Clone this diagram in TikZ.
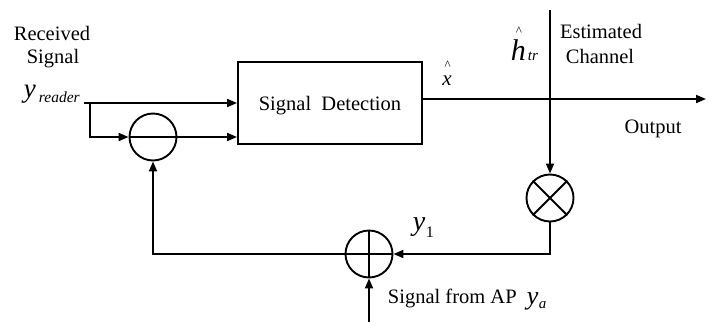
\documentclass[tikz,border=0pt]{standalone}
\usepackage{fontspec}
\setmainfont{Liberation Serif}
\usetikzlibrary{arrows.meta}
\begin{document}
\begin{tikzpicture}[x=1pt,y=-1pt, line width=1.9pt,
  arr/.style={-{Triangle[length=10pt,width=8pt]}},
  lbl/.style={font=\fontsize{20.5}{22}\selectfont, inner sep=0pt, anchor=base},
  ring/.style={circle, draw, minimum size=47pt, inner sep=0pt, line width=1.9pt}]
\useasboundingbox (0,0) rectangle (709,322);
% blocks
\node[draw, minimum width=184pt, minimum height=82pt, inner sep=0pt, line width=1.9pt] (box) at (330,103) {};
\node[lbl] (boxt) at (330,110) {Signal\ \ Detection};
\node[ring] (sub) at (153,137) {};
\draw (sub.west) -- (sub.east);
\node[ring] (mult) at (550,198) {};
\draw (mult.north west) -- (mult.south east) (mult.north east) -- (mult.south west);
\node[ring] (add) at (369,254) {};
\draw (add.north) -- (add.south) (add.west) -- (add.east);
% connectors
\coordinate (yin) at (84,103);
\coordinate (jn) at (90,103);
\draw[arr] (yin) -- (box.west |- jn);
\draw[arr] (jn) |- (sub.west);
\draw[arr] (sub.east) -- (box.west |- sub.east);
\coordinate (out) at (706,99);
\draw[arr] (box.east |- out) -- (out);
\coordinate (htop) at (550,10);
\draw[arr] (htop) -- (mult.north);
\draw[arr] (mult.south) |- (add.east);
\draw[arr] (add.west) -| (sub.south);
\coordinate (ya) at (369,322);
\draw[arr] (ya) -- (add.south);
% labels
\node[lbl] (rec1) at (52,40) {Received};
\node[lbl] (rec2) at (53,63) {Signal};
\node[lbl, anchor=base west, font=\fontsize{27}{27}\selectfont\itshape] (yr) at (23,97) {y};
\node[lbl, anchor=base west, font=\fontsize{15.5}{16}\selectfont\itshape] (yrs) at (38,102) {reader};
\node[lbl, font=\fontsize{21}{21}\selectfont\itshape] (xh) at (447,85) {x\llap{\raisebox{16pt}{\fontsize{13}{13}\selectfont\upshape\textasciicircum}\hspace{1pt}}};
\node[lbl, anchor=base west, font=\fontsize{30}{30}\selectfont\itshape] (h) at (510,60) {h\llap{\raisebox{25pt}{\fontsize{13}{13}\selectfont\upshape\textasciicircum}\hspace{4pt}}};
\node[lbl, anchor=base west, font=\fontsize{15}{15}\selectfont\itshape] (hs) at (527,60) {tr};
\node[lbl] (est1) at (601,38) {Estimated};
\node[lbl] (est2) at (600,63) {Channel};
\node[lbl] (outl) at (653,133) {Output};
\node[lbl, anchor=base west, font=\fontsize{28}{28}\selectfont\itshape] (y1) at (412,230) {y};
\node[lbl, anchor=base west, font=\fontsize{16}{16}\selectfont] (y1s) at (425,237) {1};
\node[lbl, anchor=base west] (ap) at (387,303) {Signal\ from\ AP};
\node[lbl, anchor=base west, font=\fontsize{26}{26}\selectfont\itshape] (yaL) at (526,304) {y};
\node[lbl, anchor=base west, font=\fontsize{15}{15}\selectfont\itshape] (yas) at (538,308) {a};
\end{tikzpicture}
\end{document}
